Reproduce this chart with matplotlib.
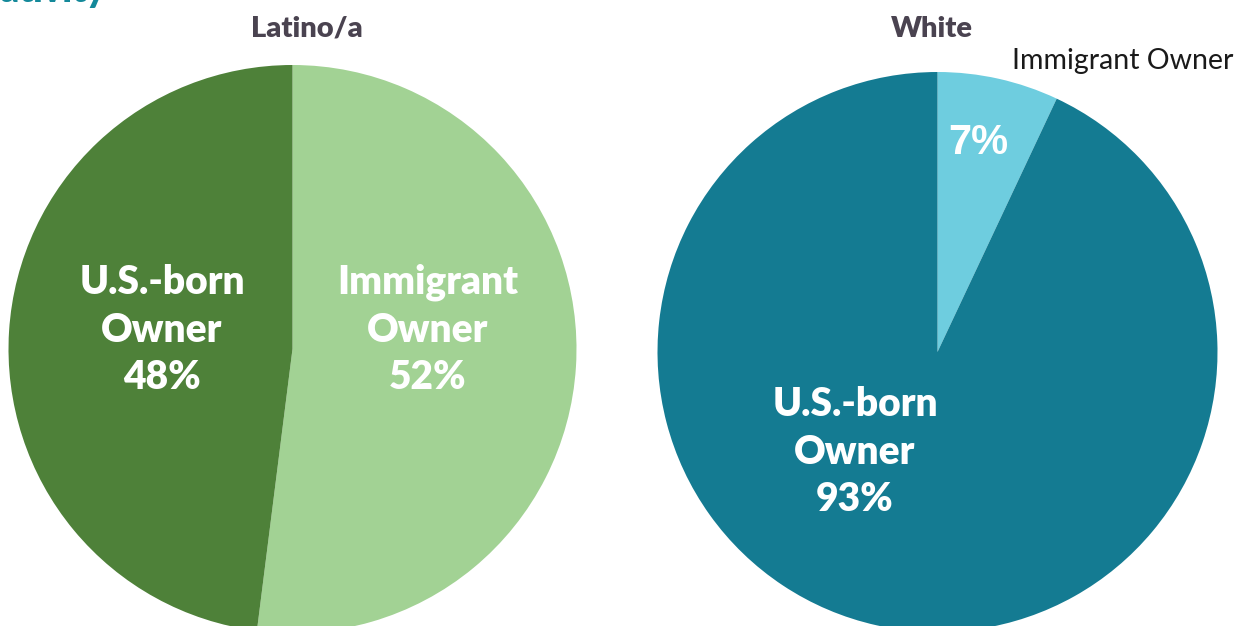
import matplotlib.pyplot as plt

# data
groups = ["Latino/a", "White"]
owner_types = ["Immigrant Owner", "U.S.-born Owner"]
latino_shares = [52, 48]
white_shares = [7, 93]

latino_colors = ["#a2d294", "#4e8139"]
white_colors = ["#6ecddf", "#147b92"]

W, H = 1242, 626
fig = plt.figure(figsize=(W / 100, H / 100), dpi=100)
ax = fig.add_axes([0, 0, 1, 1])

font = ["Lato", "DejaVu Sans"]
title_color = "#4a4350"

# left pie (Latino/a)
ax.pie(latino_shares, colors=latino_colors, startangle=90, counterclock=False,
       center=(292.5, H - 349), radius=284, frame=True,
       wedgeprops=dict(linewidth=0))
# right pie (White)
ax.pie(white_shares, colors=white_colors, startangle=90, counterclock=False,
       center=(937.5, H - 352), radius=280, frame=True,
       wedgeprops=dict(linewidth=0))
ax.set_xlim(0, W)
ax.set_ylim(0, H)
ax.set_aspect("equal")
ax.axis("off")

# titles
ax.text(307, H - 29, groups[0], ha="center", va="center", fontsize=21,
        fontweight="heavy", color=title_color, family=font)
ax.text(932, H - 29, groups[1], ha="center", va="center", fontsize=21,
        fontweight="heavy", color=title_color, family=font)

# cut-off heading at the very top
ax.text(105, H - 2, "by Nativity", ha="right", va="baseline", fontsize=26,
        fontweight="heavy", color="#14899a", family=font)

# slice labels
lab = dict(ha="center", va="center", fontsize=28, fontweight="heavy",
           color="white", family=font, linespacing=1.35)
ax.text(162, H - 330, "U.S.-born\nOwner\n%d%%" % latino_shares[1], **lab)
ax.text(428, H - 330, "Immigrant\nOwner\n%d%%" % latino_shares[0], **lab)
ax.text(855, H - 452, "U.S.-born\nOwner\n%d%%" % white_shares[1], **lab)
ax.text(978, H - 143, "%d%%" % white_shares[0], ha="center", va="center",
        fontsize=30, fontweight="bold", color="white",
        family=["Liberation Sans", "DejaVu Sans"])

ax.text(1123, H - 61, owner_types[0], ha="center", va="center", fontsize=20.5,
        color="#1a1a1a", family=font)

fig.savefig("out.png", dpi=100)
